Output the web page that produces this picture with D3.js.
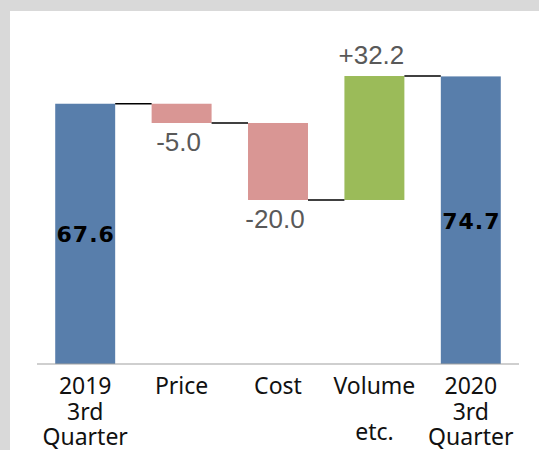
<!DOCTYPE html>
<html>
<head>
<meta charset="utf-8">
<script src="https://cdn.jsdelivr.net/npm/d3@7"></script>
<style>
  body { margin: 0; background: #d9d9d9; }
  svg { display: block; }
</style>
</head>
<body>
<div id="chart"></div>
<script>
// data
var categories = ['2019 3rd Quarter', 'Price', 'Cost', 'Volume etc.', '2020 3rd Quarter'];
var labelLines = [['2019', '3rd', 'Quarter'], ['Price'], ['Cost'], ['Volume', 'etc.'], ['2020', '3rd', 'Quarter']];
var values = [67.6, -5.0, -20.0, 32.2, 74.7];
var isTotal = [true, false, false, false, true];
var yTicks = [0, 80];

var width = 539,
    height = 450;

var colors = {
    total: '#587eab',
    up: '#9bbb59',
    down: '#d99694'
};

// plain hyphen for negatives, like the original
function fmt(v) {
    return v.toFixed(1);
}

// running totals -> bar extents
var running = 0;
var bars = categories.map(function (c, i) {
    var start, end;
    if (isTotal[i]) {
        start = 0;
        end = values[i];
        running = values[i];
    } else {
        start = running;
        end = running + values[i];
        running = end;
    }
    return { name: c, lines: labelLines[i], value: values[i], total: isTotal[i], start: start, end: end };
});

var svg = d3.select('#chart').append('svg')
    .attr('width', width)
    .attr('height', height);

svg.append('rect')
    .attr('x', 10)
    .attr('y', 11)
    .attr('width', width - 10)
    .attr('height', height - 11)
    .style('fill', '#fff');

var x = d3.scaleBand()
    .domain(categories)
    .range([37, 519])
    .paddingInner(0.378)
    .paddingOuter(0.189);

var y = d3.scaleLinear()
    .domain(yTicks)
    .range([364, 56]);

// bars
svg.selectAll('.bar')
    .data(bars)
    .enter().append('rect')
    .attr('class', 'bar')
    .attr('x', function (d) { return x(d.name); })
    .attr('width', x.bandwidth())
    .attr('y', function (d) { return y(Math.max(d.start, d.end)); })
    .attr('height', function (d) { return Math.abs(y(d.start) - y(d.end)); })
    .style('fill', function (d) {
        if (d.total) return colors.total;
        return d.value >= 0 ? colors.up : colors.down;
    });

// connectors
svg.selectAll('.connector')
    .data(bars.slice(0, -1))
    .enter().append('line')
    .attr('class', 'connector')
    .attr('x1', function (d) { return x(d.name) + x.bandwidth(); })
    .attr('x2', function (d, i) { return x(bars[i + 1].name); })
    .attr('y1', function (d) { return y(d.end); })
    .attr('y2', function (d) { return y(d.end); })
    .style('stroke', '#000')
    .style('stroke-width', 1.5);

// axis baseline
svg.append('line')
    .attr('x1', x.range()[0])
    .attr('x2', x.range()[1])
    .attr('y1', y(0))
    .attr('y2', y(0))
    .style('stroke', '#a0a0a0')
    .style('stroke-width', 1.2);

// total labels, inside the bar
svg.selectAll('.total-label')
    .data(bars.filter(function (d) { return d.total; }))
    .enter().append('text')
    .attr('class', 'total-label')
    .attr('x', function (d) { return x(d.name) + x.bandwidth() / 2 + 0.5; })
    .attr('y', function (d) { return (y(d.start) + y(d.end)) / 2 + 8.5; })
    .attr('text-anchor', 'middle')
    .style('font-family', '"DejaVu Sans", Verdana, sans-serif')
    .style('font-weight', 'bold')
    .style('font-size', '22px')
    .style('letter-spacing', '1px')
    .style('fill', '#000')
    .text(function (d) { return fmt(d.value); });

// change labels, above or below
svg.selectAll('.delta-label')
    .data(bars.filter(function (d) { return !d.total; }))
    .enter().append('text')
    .attr('class', 'delta-label')
    .attr('x', function (d) { return x(d.name) + x.bandwidth() / 2 - 3; })
    .attr('y', function (d) {
        return d.value >= 0 ? y(d.end) - 12.5 : y(d.end) + 28;
    })
    .attr('text-anchor', 'middle')
    .style('font-family', '"Liberation Sans", Arial, sans-serif')
    .style('font-size', '26px')
    .style('fill', '#595959')
    .text(function (d) { return (d.value > 0 ? '+' : '') + fmt(d.value); });

// category labels
var cat = svg.selectAll('.cat')
    .data(bars)
    .enter().append('text')
    .attr('class', 'cat')
    .attr('x', function (d) { return x(d.name) + x.bandwidth() / 2; })
    .attr('y', 394)
    .attr('text-anchor', 'middle')
    .style('font-family', '"Noto Sans", sans-serif')
    .style('font-size', '23px')
    .style('fill', '#111');

cat.selectAll('tspan')
    .data(function (d) { return d.lines.map(function (l) { return { text: l, n: d.lines.length }; }); })
    .enter().append('tspan')
    .attr('x', function () { return d3.select(this.parentNode).attr('x'); })
    .attr('dy', function (d, i) {
        if (i == 0) return 0;
        return d.n == 2 ? 46 : 25.5;
    })
    .text(function (d) { return d.text; });
</script>
</body>
</html>
